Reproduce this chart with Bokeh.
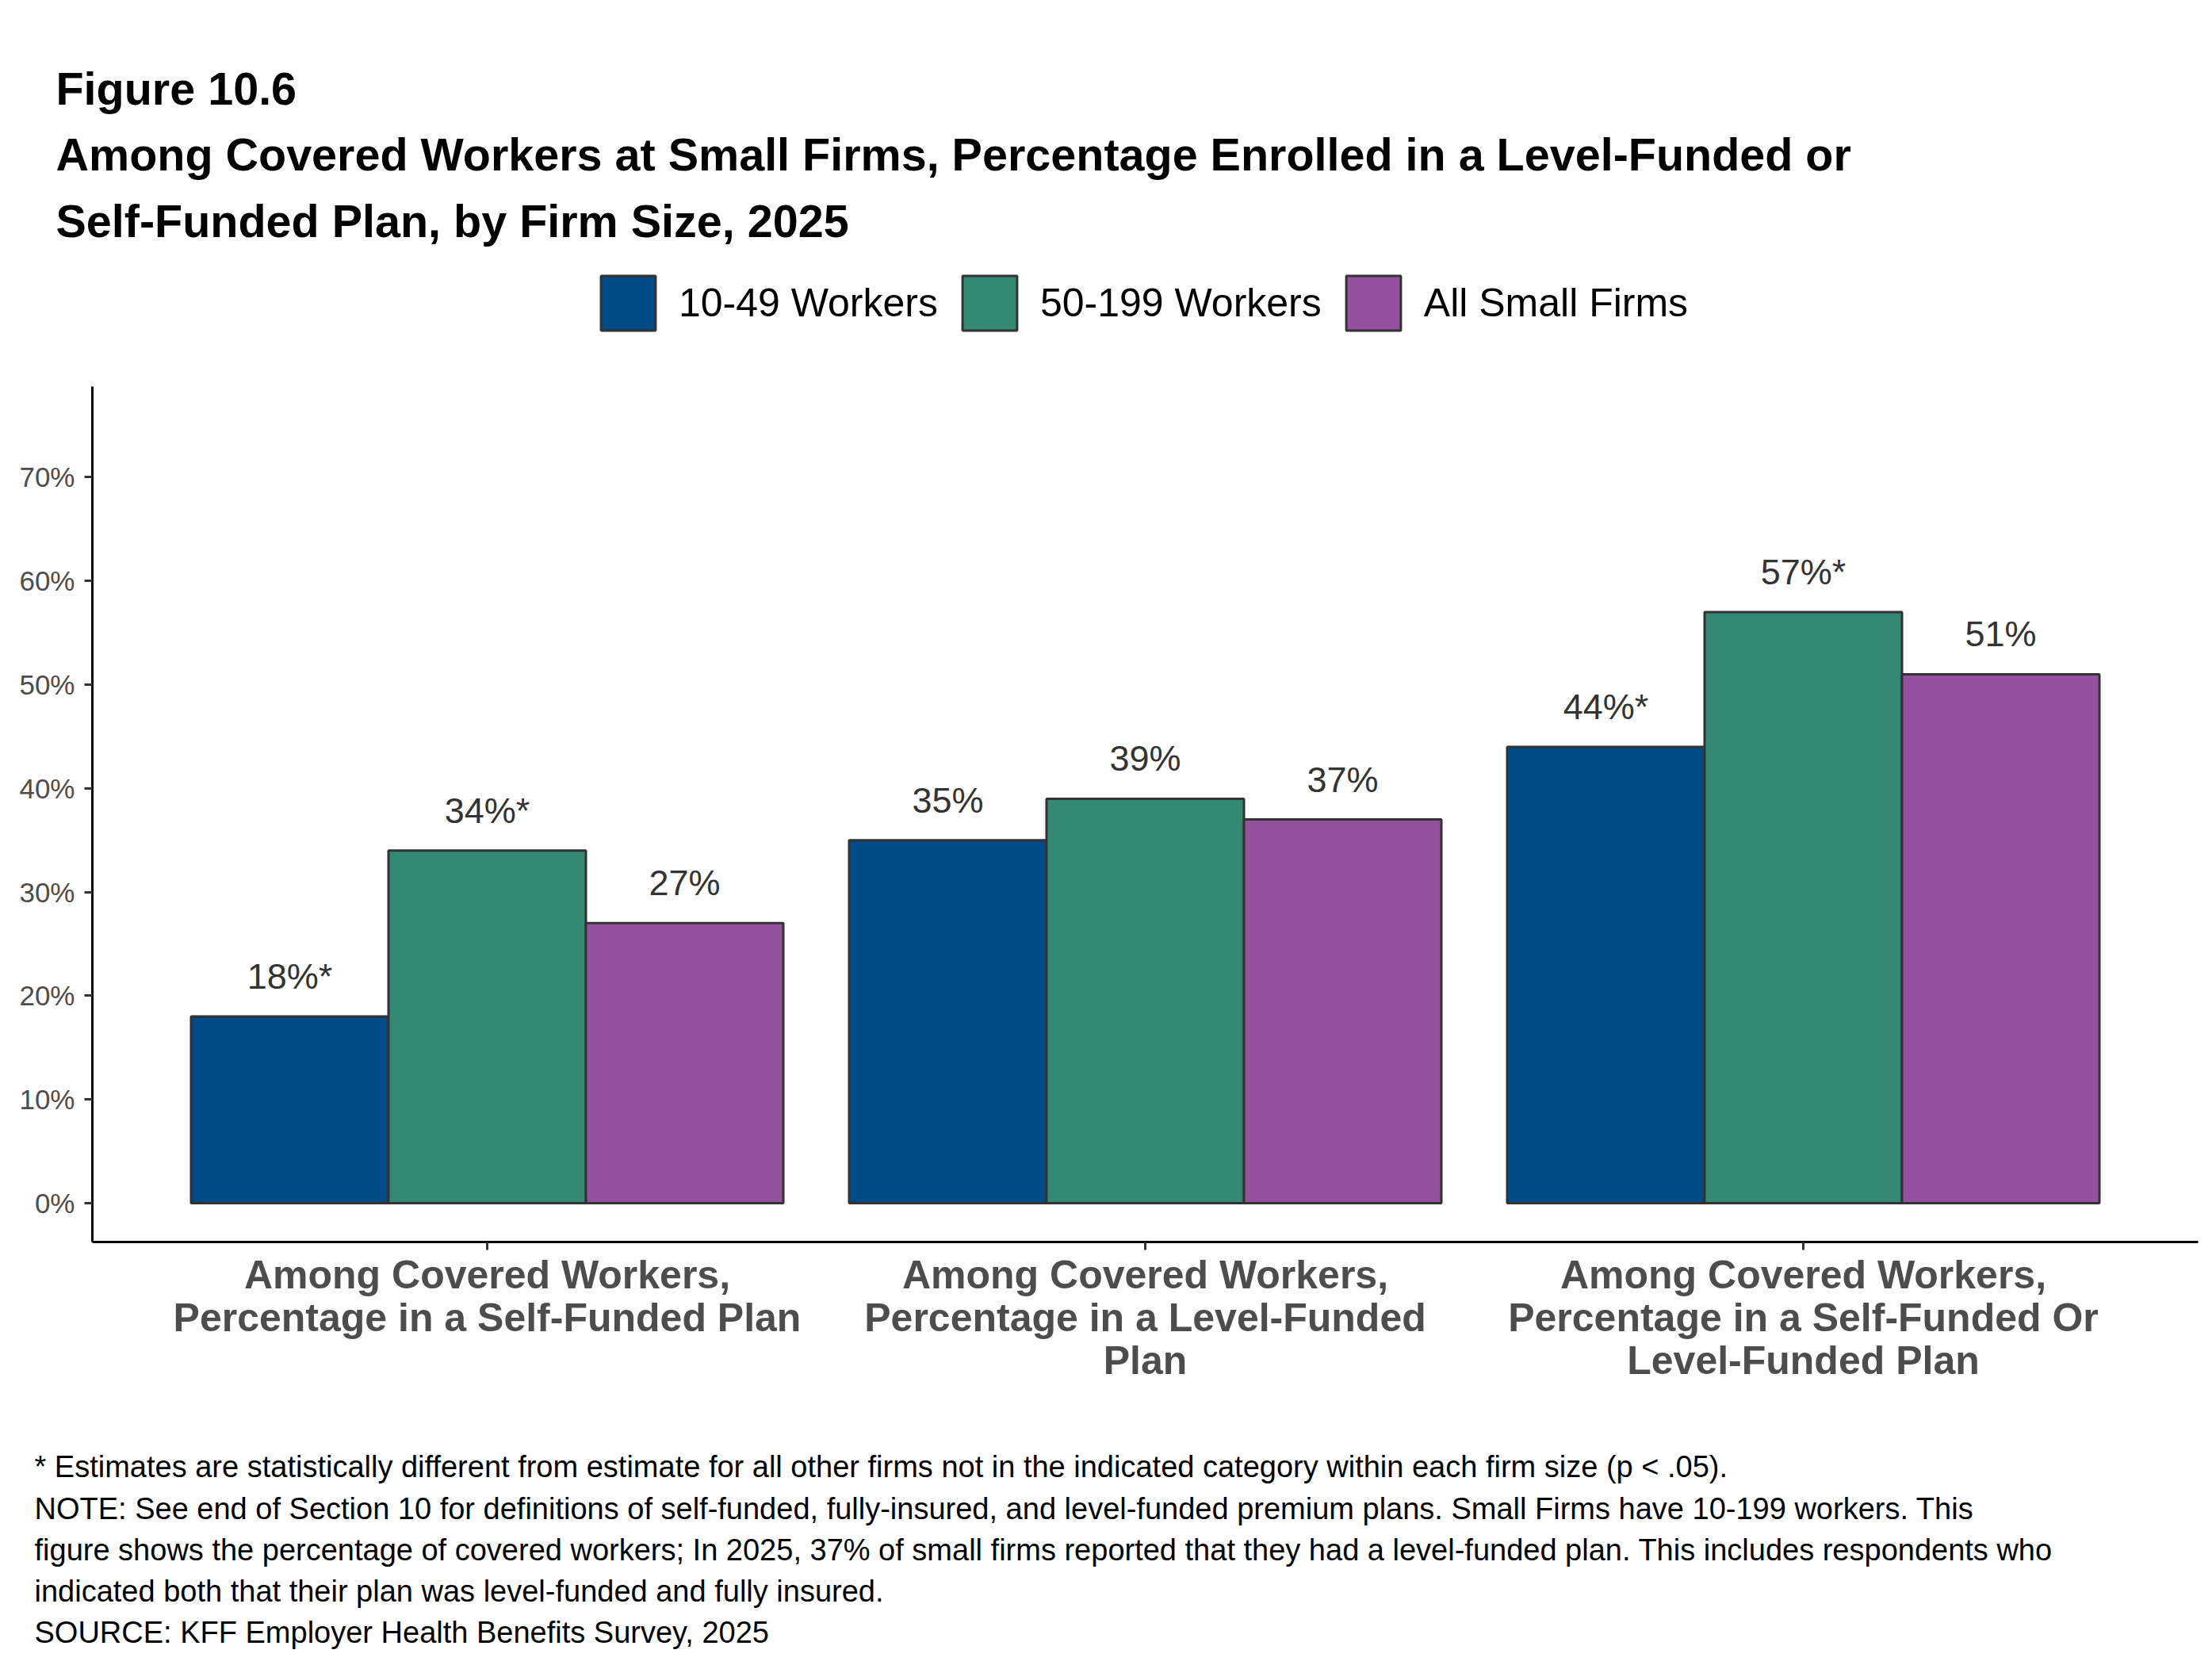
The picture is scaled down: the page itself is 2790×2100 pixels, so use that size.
from bokeh.plotting import figure
from bokeh.layouts import column
from bokeh.models import (Range1d, FixedTicker, PrintfTickFormatter, ColumnDataSource,
                          LabelSet, Label, Legend, LegendItem)
from bokeh.core.properties import value
from bokeh.transform import dodge
from bokeh.embed import file_html
from bokeh.resources import INLINE

# ---- data ----
categories = [
    "Among Covered Workers,\nPercentage in a Self-Funded Plan",
    "Among Covered Workers,\nPercentage in a Level-Funded\nPlan",
    "Among Covered Workers,\nPercentage in a Self-Funded Or\nLevel-Funded Plan",
]
cat_pos = [1, 2, 3]
series_names = ["10-49 Workers", "50-199 Workers", "All Small Firms"]
vals_10_49 = [18, 35, 44]
vals_50_199 = [34, 39, 57]
vals_all = [27, 37, 51]
labels_10_49 = ["18%*", "35%", "44%*"]
labels_50_199 = ["34%*", "39%", "57%*"]
labels_all = ["27%", "37%", "51%"]
y_ticks = [0, 10, 20, 30, 40, 50, 60, 70]
colors = ["#004a87", "#348874", "#94519d"]

title_lines = [
    "Figure 10.6",
    "Among Covered Workers at Small Firms, Percentage Enrolled in a Level-Funded or",
    "Self-Funded Plan, by Firm Size, 2025",
]
note_lines = [
    "* Estimates are statistically different from estimate for all other firms not in the indicated category within each firm size (p < .05).",
    "NOTE: See end of Section 10 for definitions of self-funded, fully-insured, and level-funded premium plans. Small Firms have 10-199 workers. This",
    "figure shows the percentage of covered workers; In 2025, 37% of small firms reported that they had a level-funded plan. This includes respondents who",
    "indicated both that their plan was level-funded and fully insured.",
    "SOURCE: KFF Employer Health Benefits Survey, 2025",
]

FONT = "Liberation Sans"
W = 2790
TOP_H, MAIN_H, BOT_H = 487, 1313, 300


def blank(h):
    f = figure(width=W, height=h, output_backend="svg", toolbar_location=None,
               x_range=Range1d(0, W), y_range=Range1d(0, h),
               x_axis_type=None, y_axis_type=None, frame_align=False,
               min_border=0, min_border_left=0, min_border_right=0,
               min_border_top=0, min_border_bottom=0)
    f.outline_line_color = None
    f.grid.visible = False
    f.background_fill_color = "white"
    f.border_fill_color = "white"
    return f


# ---- header: titles + legend ----
top = blank(TOP_H)
for txt, yy in zip(title_lines, [376, 293, 209]):
    top.add_layout(Label(x=70, y=yy, x_units="screen", y_units="screen", text=txt,
                         text_font=FONT, text_font_size="57.5px", text_font_style="bold",
                         text_color="black", text_baseline="alphabetic"))
# legend proxies: no drawable data, only their legend swatches show
proxy = ColumnDataSource(dict(x=[float("nan")], top=[float("nan")]))
proxies = [top.vbar(x="x", top="top", width=1, source=proxy, fill_color=c,
                    line_color="#333333", line_width=3) for c in colors]
legend = Legend(items=[LegendItem(label=n, renderers=[r]) for n, r in zip(series_names, proxies)],
                orientation="horizontal", location=(749, 62),
                glyph_width=86, glyph_height=86, label_standoff=21, spacing=22,
                padding=0, margin=0, border_line_color=None, background_fill_alpha=0,
                label_text_font=FONT, label_text_font_size="50px", label_text_color="black",
                label_height=86)
top.add_layout(legend)

# ---- main chart ----
p = figure(width=W, height=MAIN_H, output_backend="svg", toolbar_location=None,
           x_range=Range1d(0.4, 3.6), y_range=Range1d(-3.75, 78.75), frame_align=False,
           min_border_left=116, min_border_right=18, min_border_top=0, min_border_bottom=234)
p.background_fill_color = "white"
p.border_fill_color = "white"
p.outline_line_color = None
p.xgrid.visible = False
p.ygrid.visible = False

src = ColumnDataSource(dict(x=cat_pos, a=vals_10_49, b=vals_50_199, c=vals_all,
                            la=labels_10_49, lb=labels_50_199, lc=labels_all))

for col, lab, off, color in [("a", "la", -0.3, colors[0]), ("b", "lb", 0.0, colors[1]), ("c", "lc", 0.3, colors[2])]:
    p.vbar(x=dodge("x", off, range=p.x_range), top=col, bottom=0, width=0.3, source=src,
           fill_color=color, line_color="#333333", line_width=3)
    p.add_layout(LabelSet(x=dodge("x", off, range=p.x_range), y=col, text=lab, source=src,
                          text_align="center", text_baseline="alphabetic", y_offset=35,
                          text_font_size=value("45px"), text_font=value(FONT),
                          text_color=value("#333333")))

p.xaxis.ticker = FixedTicker(ticks=cat_pos)
p.xaxis.major_label_overrides = {k: v for k, v in zip(cat_pos, categories)}
p.xaxis.major_label_text_font = FONT
p.xaxis.major_label_text_font_size = "50px"
p.xaxis.major_label_text_font_style = "bold"
p.xaxis.major_label_text_color = "#4d4d4d"
p.xaxis.major_label_text_line_height = 0.97
p.xaxis.major_label_standoff = 3
p.xaxis.axis_line_color = "black"
p.xaxis.axis_line_width = 3
p.xaxis.major_tick_line_color = "#333333"
p.xaxis.major_tick_line_width = 3
p.xaxis.major_tick_out = 10
p.xaxis.major_tick_in = 0
p.xaxis.minor_tick_line_color = None

p.yaxis.ticker = FixedTicker(ticks=y_ticks)
p.yaxis.formatter = PrintfTickFormatter(format="%d%%")
p.yaxis.major_label_text_font = FONT
p.yaxis.major_label_text_font_size = "35px"
p.yaxis.major_label_text_color = "#4d4d4d"
p.yaxis.major_label_standoff = 12
p.yaxis.axis_line_color = "black"
p.yaxis.axis_line_width = 3
p.yaxis.major_tick_line_color = "#333333"
p.yaxis.major_tick_line_width = 3
p.yaxis.major_tick_out = 10
p.yaxis.major_tick_in = 0
p.yaxis.minor_tick_line_color = None

# ---- footer notes ----
bot = blank(BOT_H)
for txt, yy in zip(note_lines, [251, 198, 146, 94, 42]):
    bot.add_layout(Label(x=43, y=yy, x_units="screen", y_units="screen", text=txt,
                         text_font=FONT, text_font_size="38px",
                         text_color="black", text_baseline="alphabetic"))

layout = column(top, p, bot, spacing=0)
open("out.html", "w").write(file_html(layout, INLINE))
